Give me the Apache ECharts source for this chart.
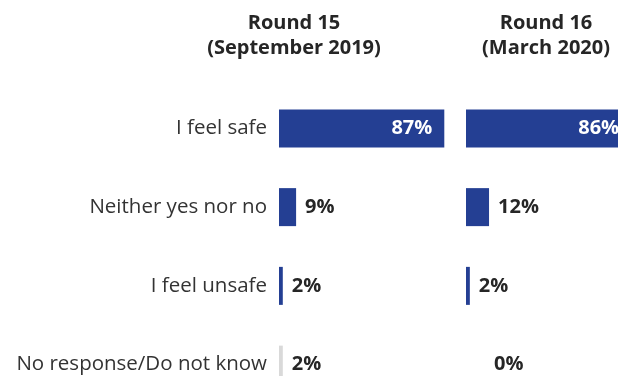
<!DOCTYPE html>
<html>
<head>
<meta charset="utf-8">
<script src="https://cdn.jsdelivr.net/npm/echarts@6/dist/echarts.min.js"></script>
<style>
  html, body { margin: 0; padding: 0; background: #ffffff; }
  #chart { width: 618px; height: 376px; }
</style>
</head>
<body>
<div id="chart"></div>
<script>
// Survey answers, top to bottom
const categories = ['I feel safe', 'Neither yes nor no', 'I feel unsafe', 'No response/Do not know'];
const round15 = [87, 9, 2, 2];
const round16 = [86, 12, 2, 0];
const round15Title = ['Round 15', '(September 2019)'];
const round16Title = ['Round 16', '(March 2020)'];

const BLUE = '#243f93';
const GREY = '#d9d9d9';
const FONT = '"Open Sans", sans-serif';

function barData(values) {
  return values.map((v, i) => {
    const item = { value: v };
    // the non-response row is drawn in a muted tone
    if (i === categories.length - 1) item.itemStyle = { color: GREY };
    // the large first bar carries its label inside, in white
    if (i === 0) {
      item.label = { position: 'insideRight', color: '#ffffff', distance: 12 };
    }
    // empty bar: label sits further out
    if (v === 0) item.label = { offset: [19, 0] };
    return item;
  });
}

function series(idx, values) {
  return {
    type: 'bar',
    xAxisIndex: idx,
    yAxisIndex: idx,
    barWidth: 38,
    itemStyle: { color: BLUE },
    label: {
      show: true,
      position: 'right',
      distance: 9,
      formatter: '{c}%',
      fontFamily: FONT,
      fontWeight: 'bold',
      fontSize: 20,
      color: '#262626'
    },
    data: barData(values),
    silent: true
  };
}

function title(x, lines) {
  return {
    type: 'text', x: x, y: 11,
    style: {
      text: lines.join('\n'),
      textAlign: 'center', textVerticalAlign: 'top',
      fontFamily: FONT, fontWeight: 'bold',
      fontSize: 20, lineHeight: 25, fill: '#262626'
    }
  };
}

const chart = echarts.init(document.getElementById('chart'), null, { renderer: 'canvas' });

chart.setOption({
  animation: false,
  backgroundColor: '#ffffff',
  grid: [
    { left: 279, top: 89, width: 190, height: 315, outerBoundsMode: 'none', containLabel: false },
    { left: 466, top: 89, width: 192, height: 315, outerBoundsMode: 'none', containLabel: false }
  ],
  xAxis: [0, 1].map(i => ({
    gridIndex: i, type: 'value', min: 0, max: 100, show: false
  })),
  yAxis: [0, 1].map(i => ({
    gridIndex: i,
    type: 'category',
    inverse: true,
    data: categories,
    axisLine: { show: false },
    axisTick: { show: false },
    splitLine: { show: false },
    axisLabel: {
      show: i === 0,
      margin: 12,
      fontFamily: FONT,
      fontSize: 20.5,
      color: '#333333'
    }
  })),
  graphic: [title(294, round15Title), title(546, round16Title)],
  series: [series(0, round15), series(1, round16)]
});
</script>
</body>
</html>
